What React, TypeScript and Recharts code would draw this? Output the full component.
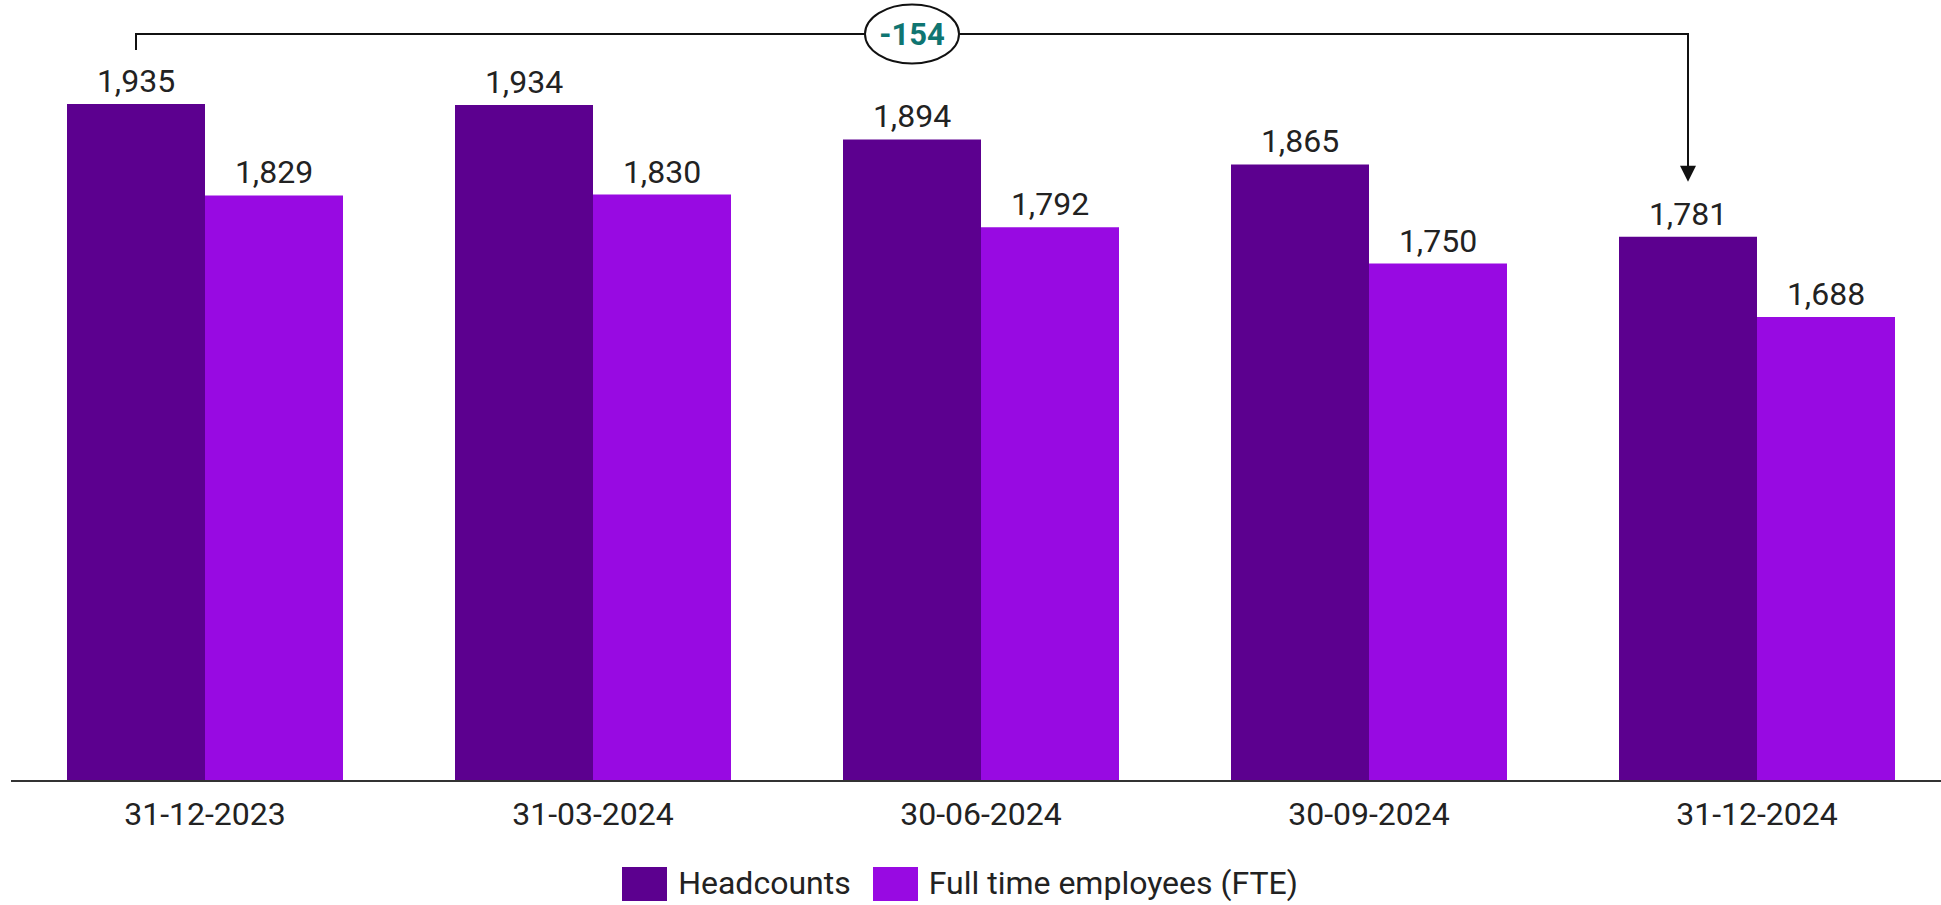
import React from 'react';
import { BarChart, Bar, XAxis, YAxis, LabelList, Legend } from 'recharts';

const categories = ['31-12-2023', '31-03-2024', '30-06-2024', '30-09-2024', '31-12-2024'];
const headcounts = [1935, 1934, 1894, 1865, 1781];
const fte = [1829, 1830, 1792, 1750, 1688];
const seriesNames = ['Headcounts', 'Full time employees (FTE)'];
const seriesColors = ['#5c008f', '#980ae2'];
const yDomain: [number, number] = [1150, 2000];

const data = categories.map((c, i) => ({ date: c, headcounts: headcounts[i], fte: fte[i] }));
const change = headcounts[headcounts.length - 1] - headcounts[0];

const FONT = 'Roboto, "Noto Sans", sans-serif';
const TEXT = '#222222';

const firstBar = { cx: 0, top: 0 };

function fmt(v: any) {
  return Number(v).toLocaleString('en-US');
}

function Bracket(props: any) {
  const vb = props.viewBox && props.viewBox.width != null ? props.viewBox : props;
  const idx = props.index != null ? props.index : headcounts.indexOf(Number(props.value));
  const cx = Number(vb.x) + Number(vb.width) / 2;
  const top = Number(vb.y);
  if (idx === 0) {
    firstBar.cx = cx;
    firstBar.top = top;
    return <g />;
  }
  if (idx !== headcounts.length - 1) return <g />;
  const x0 = firstBar.cx;
  const lineY = firstBar.top - 70;
  const tickBottom = firstBar.top - 54;
  const tip = top - 55;
  const mid = (x0 + cx) / 2;
  return (
    <g>
      <polyline
        points={`${x0},${tickBottom} ${x0},${lineY} ${cx},${lineY} ${cx},${tip - 15}`}
        fill="none"
        stroke="#111"
        strokeWidth={2}
      />
      <polygon points={`${cx - 8},${tip - 16} ${cx + 8},${tip - 16} ${cx},${tip}`} fill="#111" />
      <ellipse cx={mid} cy={lineY} rx={47} ry={29.5} fill="#fff" stroke="#111" strokeWidth={2} />
      <text
        x={mid}
        y={lineY}
        textAnchor="middle"
        dominantBaseline="central"
        fontFamily={FONT}
        fontWeight={700}
        fontSize={31}
        fill="#0f7571"
      >
        {String(change)}
      </text>
    </g>
  );
}

function LegendContent(props: any) {
  const fromPayload = (props.payload || []) as any[];
  const items = seriesNames.map((n, i) => {
    const p = fromPayload.find((q: any) => q.value === n);
    return { value: n, color: p && p.color ? p.color : seriesColors[i] };
  });
  return (
    <div
      style={{
        display: 'flex',
        justifyContent: 'center',
        alignItems: 'center',
        width: 1920,
        height: 43,
        fontFamily: FONT,
        fontSize: 32,
        color: TEXT,
      }}
    >
      {items.map((p: any, i: number) => (
        <div key={i} style={{ display: 'flex', alignItems: 'center', marginLeft: i === 0 ? 0 : 22 }}>
          <div style={{ width: 45, height: 34, background: p.color, marginRight: 11 }} />
          <span style={{ lineHeight: '43px' }}>{p.value}</span>
        </div>
      ))}
    </div>
  );
}

export default function App() {
  return (
    <div style={{ position: 'absolute', left: 0, top: 0, width: 1941, height: 905, overflow: 'hidden', background: '#fff' }}>
      <BarChart
        width={1962}
        height={905}
        data={data}
        margin={{ top: 48, right: 11, left: 11, bottom: 21 }}
        barGap={0}
        style={{ fontFamily: FONT }}
      >
        <XAxis
          dataKey="date"
          tickLine={false}
          tickSize={8}
          tickMargin={13}
          height={60}
          axisLine={{ stroke: '#333', strokeWidth: 2 }}
          tick={{ fill: TEXT, fontSize: 32, fontFamily: FONT }}
          interval={0}
        />
        <YAxis hide domain={yDomain} allowDataOverflow />
        <Legend
          verticalAlign="bottom"
          content={<LegendContent />}
          wrapperStyle={{ top: 862, left: 0, bottom: 'auto', width: 1920, height: 43 }}
        />
        <Bar dataKey="headcounts" name={seriesNames[0]} fill={seriesColors[0]} barSize={138} isAnimationActive={false}>
          <LabelList
            dataKey="headcounts"
            position="top"
            offset={12}
            formatter={fmt}
            style={{ fill: TEXT, fontSize: 32, fontFamily: FONT }}
          />
          <LabelList dataKey="headcounts" content={Bracket} />
        </Bar>
        <Bar dataKey="fte" name={seriesNames[1]} fill={seriesColors[1]} barSize={138} isAnimationActive={false}>
          <LabelList
            dataKey="fte"
            position="top"
            offset={12}
            formatter={fmt}
            style={{ fill: TEXT, fontSize: 32, fontFamily: FONT }}
          />
        </Bar>
      </BarChart>
    </div>
  );
}
